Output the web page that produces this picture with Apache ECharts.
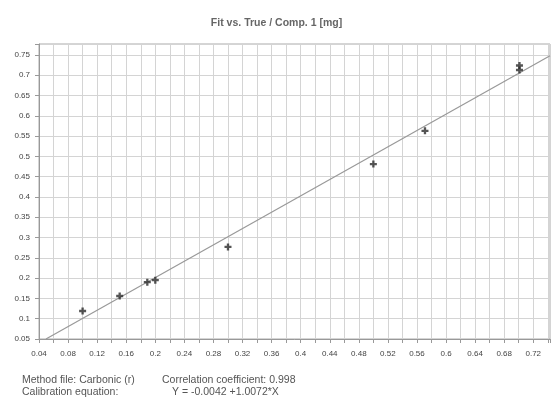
<!DOCTYPE html>
<html>
<head>
<meta charset="utf-8">
<script src="https://cdn.jsdelivr.net/npm/echarts@6/dist/echarts.min.js"></script>
<style>
html,body{margin:0;padding:0;background:#fff;}
#c{width:553px;height:406px;}
</style>
</head>
<body>
<div id="c"></div>
<script>
// Data
const trueValues = [0.100, 0.151, 0.189, 0.200, 0.300, 0.500, 0.571, 0.701, 0.701];
const fitValues  = [0.119, 0.156, 0.190, 0.195, 0.277, 0.481, 0.563, 0.724, 0.713];
const fitLineX = [0.0496, 0.743];
const fitLineY = [0.050, 0.748];
const titleText = 'Fit vs. True / Comp. 1 [mg]';
const infoLine1a = 'Method file: Carbonic (r)';
const infoLine1b = 'Correlation coefficient: 0.998';
const infoLine2a = 'Calibration equation:';
const infoLine2b = 'Y = -0.0042 +1.0072*X';

const points = trueValues.map((x, i) => [x, fitValues[i]]);
const line = fitLineX.map((x, i) => [x, fitLineY[i]]);

const chart = echarts.init(document.getElementById('c'));
const font = 'Liberation Sans, Arial, sans-serif';
const isMult = (v, step) => Math.abs(v / step - Math.round(v / step)) < 1e-6;

chart.setOption({
  animation: false,
  backgroundColor: '#fff',
  title: {
    text: titleText,
    left: 'center',
    top: 13,
    textStyle: {fontSize: 10.5, fontWeight: 'bold', color: '#666', fontFamily: font}
  },
  grid: {left: 39, right: 0, top: 44, bottom: 67, show: true, borderColor: '#aaa', borderWidth: 1},
  xAxis: {
    type: 'value', min: 0.04, max: 0.743, interval: 0.04,
    axisLine: {show: true, lineStyle: {color: '#999'}},
    axisTick: {show: true, length: 4, lineStyle: {color: '#999'}},
    minorTick: {show: true, splitNumber: 2, length: 4, lineStyle: {color: '#999'}},
    splitLine: {show: true, lineStyle: {color: '#d4d4d4', width: 1}},
    minorSplitLine: {show: true, lineStyle: {color: '#d4d4d4', width: 1}},
    axisLabel: {
      fontSize: 8, color: '#444', fontFamily: font, margin: 11,
      formatter: v => isMult(v, 0.04) ? String(+v.toFixed(2)) : ''
    }
  },
  yAxis: {
    type: 'value', min: 0.05, max: 0.777, interval: 0.05,
    axisLine: {show: true, lineStyle: {color: '#999'}},
    axisTick: {show: true, length: 4, lineStyle: {color: '#999'}},
    splitLine: {show: true, lineStyle: {color: '#d4d4d4', width: 1}},
    axisLabel: {
      fontSize: 8, color: '#444', fontFamily: font, margin: 9,
      formatter: v => isMult(v, 0.05) ? String(+v.toFixed(2)) : ''
    }
  },
  series: [
    {
      type: 'line', data: line, showSymbol: false, symbol: 'none',
      lineStyle: {color: '#999', width: 1.2}, z: 2
    },
    {
      type: 'scatter', data: points,
      symbol: 'path://M3,0h3v3h3v3h-3v3h-3v-3h-3v-3h3z',
      symbolSize: 7,
      itemStyle: {color: '#2a2a2a'}, z: 3
    }
  ],
  graphic: [
    {type: 'text', left: 22, top: 375, style: {text: infoLine1a, font: '10.5px ' + font, fill: '#555'}},
    {type: 'text', left: 162, top: 375, style: {text: infoLine1b, font: '10.5px ' + font, fill: '#555'}},
    {type: 'text', left: 22, top: 387, style: {text: infoLine2a, font: '10.5px ' + font, fill: '#555'}},
    {type: 'text', left: 172, top: 387, style: {text: infoLine2b, font: '10.5px ' + font, fill: '#555'}}
  ]
});
</script>
</body>
</html>
